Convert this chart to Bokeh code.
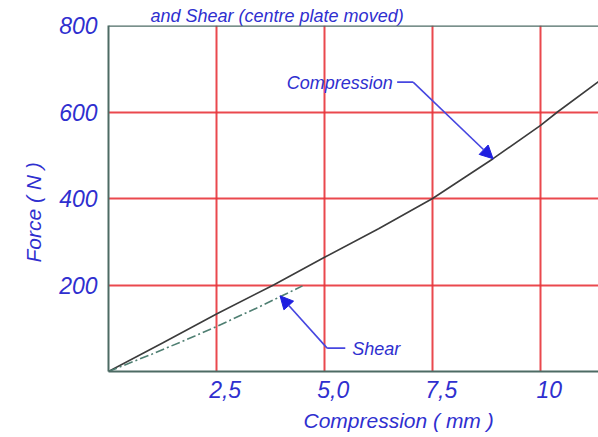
from bokeh.plotting import figure
from bokeh.models import (Range1d, FixedTicker, Span, Label, Arrow, NormalHead,
                          LinearAxis, Grid, Title)
from bokeh.embed import file_html
from bokeh.resources import INLINE

# ---- data ----
comp_x = [0, 1.25, 2.5, 3.82, 5.0, 6.25, 7.5, 8.9, 10.0, 10.39, 11.34]
comp_y = [0, 66, 133, 200, 264, 330, 400, 492, 569, 600, 670]
shear_x = [0, 1.0, 2.0, 2.5, 3.5, 4.49]
shear_y = [0, 40, 82, 104, 150, 198]
x_ticks = [2.5, 5.0, 7.5, 10.0]
x_tick_labels = ["2,5", "5,0", "7,5", "10"]
y_ticks = [200, 400, 600, 800]
y_tick_labels = ["200", "400", "600", "800"]

BLUE = "#2f2fcf"
ARROW = "#4646e0"
FONT = "Liberation Sans"
AXIS_COL = "#4d6b64"

p = figure(width=598, height=437, output_backend="svg", toolbar_location=None,
           x_range=Range1d(0, 11.34), y_range=Range1d(0, 800),
           x_axis_location=None, y_axis_location=None,
           min_border_left=108, min_border_right=0, min_border_top=25, min_border_bottom=65)
p.outline_line_color = None
p.background_fill_color = "white"
p.border_fill_color = "white"
for g in p.grid:
    g.visible = False

# label range for x: the reference's tick labels sit slightly right of their grid lines
p.extra_x_ranges = {"lab": Range1d(-0.2, 11.14)}

xaxis = LinearAxis(x_range_name="lab", ticker=FixedTicker(ticks=x_ticks),
                   major_label_overrides=dict(zip(x_ticks, x_tick_labels)),
                   major_label_standoff=9)
yaxis = LinearAxis(ticker=FixedTicker(ticks=y_ticks),
                   major_label_overrides=dict(zip(y_ticks, y_tick_labels)),
                   major_label_standoff=11)
for ax in (xaxis, yaxis):
    ax.axis_line_color = AXIS_COL
    ax.axis_line_width = 2
    ax.major_tick_in = 0
    ax.major_tick_out = 0
    ax.minor_tick_in = 0
    ax.minor_tick_out = 0
    ax.major_label_text_color = BLUE
    ax.major_label_text_font = FONT
    ax.major_label_text_font_style = "italic"
    ax.major_label_text_font_size = "23px"
p.add_layout(xaxis, "below")
p.add_layout(yaxis, "left")

# axis titles
p.add_layout(Title(text="Compression ( mm )", align="left", offset=195, standoff=12,
                   text_color=BLUE, text_font=FONT, text_font_style="italic",
                   text_font_size="21px"), "below")
p.add_layout(Title(text="Force ( N )", align="left", offset=109, standoff=20,
                   vertical_align="top",
                   text_color=BLUE, text_font=FONT, text_font_style="italic",
                   text_font_size="21px"), "left")
p.add_layout(Title(text="and Shear (centre plate moved)", align="left", offset=42, standoff=0,
                   text_color=BLUE, text_font=FONT, text_font_style="italic",
                   text_font_size="18px"), "above")

xgrid = Grid(dimension=0, ticker=FixedTicker(ticks=x_ticks))
ygrid = Grid(dimension=1, ticker=FixedTicker(ticks=y_ticks[:-1]))
for g in (xgrid, ygrid):
    g.grid_line_color = "#e8343a"
    g.grid_line_width = 2
    g.grid_line_alpha = 0.9
    p.add_layout(g)

# frame top line
p.add_layout(Span(location=800, dimension="width", line_color=AXIS_COL, line_width=2.5))

# curves
p.line(comp_x, comp_y, line_color="#3c3c3c", line_width=1.6)
p.line(shear_x, shear_y, line_color="#4f7f72", line_width=1.6, line_dash="9 3 2 3")

# callouts
p.line([6.68, 7.05], [669, 669], line_color=ARROW, line_width=1.6)
p.add_layout(Arrow(x_start=7.05, y_start=669, x_end=8.90, y_end=492,
                   line_color=ARROW, line_width=1.6,
                   end=NormalHead(size=13, fill_color="#1f1fe0", line_color="#1f1fe0")))
p.line([5.48, 5.06], [54, 54], line_color=ARROW, line_width=1.6)
p.add_layout(Arrow(x_start=5.06, y_start=54, x_end=3.97, y_end=175,
                   line_color=ARROW, line_width=1.6,
                   end=NormalHead(size=13, fill_color="#1f1fe0", line_color="#1f1fe0")))

p.add_layout(Label(x=5.35, y=667, text="Compression", text_color=BLUE, text_font=FONT,
                   text_font_style="italic", text_font_size="18px",
                   text_align="center", text_baseline="middle"))
p.add_layout(Label(x=5.64, y=52, text="Shear", text_color=BLUE, text_font=FONT,
                   text_font_style="italic", text_font_size="18px",
                   text_align="left", text_baseline="middle"))

open("out.html", "w").write(file_html(p, INLINE))
